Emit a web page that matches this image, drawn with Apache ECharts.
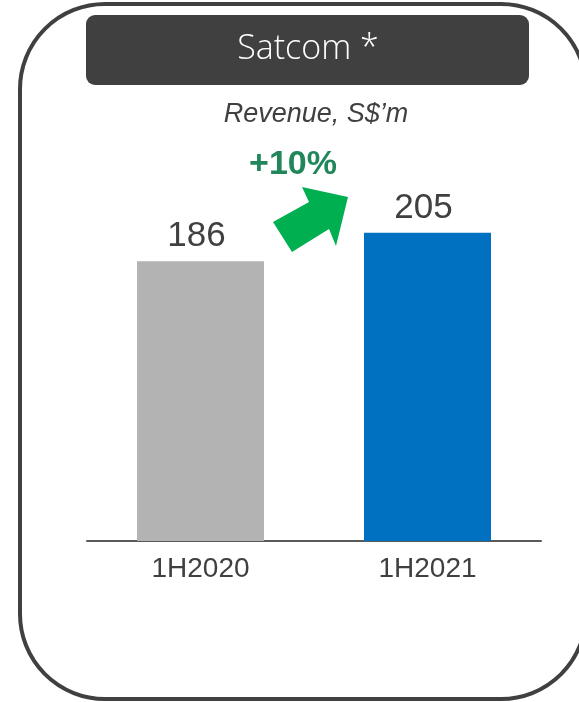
<!DOCTYPE html>
<html>
<head>
<meta charset="utf-8">
<script src="https://cdn.jsdelivr.net/npm/echarts@6/dist/echarts.min.js"></script>
<style>
html,body{margin:0;padding:0;background:#fff;}
#chart{width:579px;height:702px;}
</style>
</head>
<body>
<div id="chart"></div>
<script>
const categories = ['1H2020', '1H2021'];
const revenue = [186, 205];
const barColors = ['#B3B3B3', '#0070C0'];
const panelTitle = 'Satcom *';
const unitLabel = 'Revenue, S$\u2019m';
const growthLabel = '+10%';

const chart = echarts.init(document.getElementById('chart'), null, {renderer: 'canvas'});
const option = {
  animation: false,
  backgroundColor: '#ffffff',
  grid: {left: 87, right: 38, top: 165, bottom: 161},
  xAxis: {
    type: 'category',
    data: categories,
    axisLine: {lineStyle: {color: '#595959', width: 2}},
    axisTick: {show: false},
    axisLabel: {color: '#404040', fontSize: 28, fontFamily: 'Liberation Sans, Arial, sans-serif', margin: 14}
  },
  yAxis: {
    type: 'value', min: 0, max: 250, show: false,
    splitLine: {show: false}
  },
  series: [{
    type: 'bar',
    barWidth: 127,
    data: revenue.map((v, i) => ({value: v, itemStyle: {color: barColors[i]}})),
    label: {
      show: true, position: 'top', distance: 7, offset: [-4, 0],
      color: '#404040', fontSize: 35,
      fontFamily: 'Liberation Sans, Arial, sans-serif'
    }
  }],
  graphic: [
    {
      type: 'rect', z: 10,
      shape: {x: 20, y: 4, width: 566, height: 695, r: 85},
      style: {fill: 'none', stroke: '#404040', lineWidth: 4}
    },
    {
      type: 'rect', z: 11,
      shape: {x: 86, y: 15, width: 443, height: 70, r: 9},
      style: {fill: '#404040'}
    },
    {
      type: 'text', z: 12, x: 308, y: 49,
      style: {
        text: panelTitle, fill: '#ffffff', fontSize: 34, fontWeight: 300,
        fontFamily: 'Open Sans, sans-serif',
        align: 'center', verticalAlign: 'middle'
      }
    },
    {
      type: 'text', z: 12, x: 316, y: 114,
      style: {
        text: unitLabel, fill: '#404040', fontSize: 27, fontStyle: 'italic',
        fontFamily: 'Liberation Sans, Arial, sans-serif',
        align: 'center', verticalAlign: 'middle'
      }
    },
    {
      type: 'text', z: 12, x: 293, y: 165,
      style: {
        text: growthLabel, fill: '#21875A', fontSize: 34, fontWeight: 'bold',
        fontFamily: 'Liberation Sans, Arial, sans-serif',
        align: 'center', verticalAlign: 'middle'
      }
    },
    {
      type: 'polygon', z: 12,
      shape: {points: [[348, 197], [302, 187], [309, 202], [273, 222], [292, 252], [329, 229], [336, 246]]},
      style: {fill: '#00B050'}
    }
  ]
};
chart.setOption(option);
</script>
</body>
</html>
